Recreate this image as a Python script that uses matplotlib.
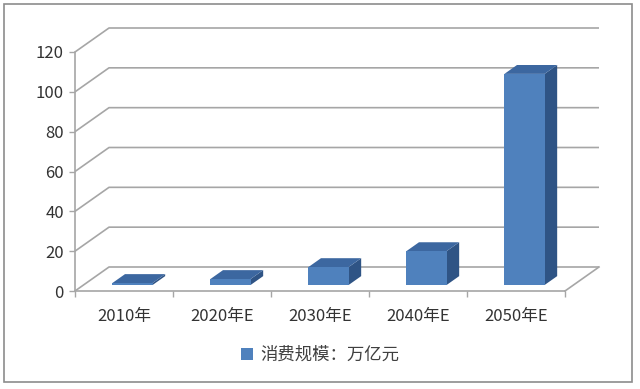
import matplotlib
matplotlib.use("Agg")
import matplotlib.pyplot as plt
from matplotlib.patches import Polygon, Rectangle, Patch

plt.rcParams['font.family'] = ['Noto Sans CJK SC', 'DejaVu Sans']

categories = ["2010年", "2020年E", "2030年E", "2040年E", "2050年E"]
values = [1, 3, 9, 17, 106]
yticks = [0, 20, 40, 60, 80, 100, 120]
legend_label = "消费规模：万亿元"

W, H = 640, 389
fig = plt.figure(figsize=(W / 100, H / 100), dpi=100)
ax = fig.add_axes([75 / W, (H - 291) / H, 490 / W, 239 / H])
n = len(categories)
ax.set_xlim(0, n)
ax.set_ylim(0, 120)

# oblique depth offset (data units)
DX = 34 / 98.0
DY = 24 / (239 / 120.0)

grid_c = '#A6A6A6'
lw = 1.2
for v in yticks:
    ax.plot([0, DX, n + DX], [v, v + DY, v + DY], color=grid_c, lw=lw,
            clip_on=False, zorder=1, solid_capstyle='butt')
# floor right edge
ax.plot([n, n + DX], [0, DY], color=grid_c, lw=lw, clip_on=False, zorder=1)

# bars
w = 0.41
fd, bd = 0.25, 0.62
dd = bd - fd
front_c = '#4F81BD'
top_c = '#3C67A0'
side_c = '#2F5485'
for i, v in enumerate(values):
    xl = i + 0.5 - w / 2 + fd * DX
    xr = xl + w
    base = fd * DY
    top = base + v
    ox, oy = dd * DX, dd * DY
    ax.add_patch(Polygon([(xr, base), (xr + ox, base + oy), (xr + ox, top + oy), (xr, top)],
                         closed=True, facecolor=side_c, edgecolor='none', clip_on=False, zorder=3))
    ax.add_patch(Polygon([(xl, top), (xr, top), (xr + ox, top + oy), (xl + ox, top + oy)],
                         closed=True, facecolor=top_c, edgecolor='none', clip_on=False, zorder=3))
    ax.add_patch(Rectangle((xl, base), w, v, facecolor=front_c, edgecolor='none',
                           clip_on=False, zorder=4))

for s in ['top', 'right']:
    ax.spines[s].set_visible(False)
for s in ['left', 'bottom']:
    ax.spines[s].set_color(grid_c)
    ax.spines[s].set_linewidth(lw)
    ax.spines[s].set_zorder(2)

ax.set_yticks(yticks)
ax.set_yticklabels([str(t) for t in yticks])
ax.tick_params(axis='y', length=4, width=1, color=grid_c, pad=4,
               labelsize=12, labelcolor='#333333')
ax.set_xticks(range(n + 1))
ax.set_xticklabels([])
ax.tick_params(axis='x', which='major', length=4, width=1, color=grid_c)
ax.set_xticks([i + 0.5 for i in range(n)], minor=True)
ax.set_xticklabels(categories, minor=True)
ax.tick_params(axis='x', which='minor', length=0, pad=12,
               labelsize=12, labelcolor='#333333')
ax.patch.set_visible(False)

handle = Patch(facecolor=front_c, edgecolor='none')
fig.legend(handles=[handle], labels=[legend_label], loc='center',
           bbox_to_anchor=(0.5, 1 - 355 / H), frameon=False,
           handlelength=0.7, handleheight=0.7, handletextpad=0.4,
           prop={'size': 12.5}, labelcolor='#404040')

fig.patches.append(Rectangle((4 / W, 1 - 382 / H), 628 / W, 378 / H,
                             transform=fig.transFigure, fill=False,
                             edgecolor='#8C8C8C', linewidth=1.2))

fig.savefig('out.png', dpi=100)
